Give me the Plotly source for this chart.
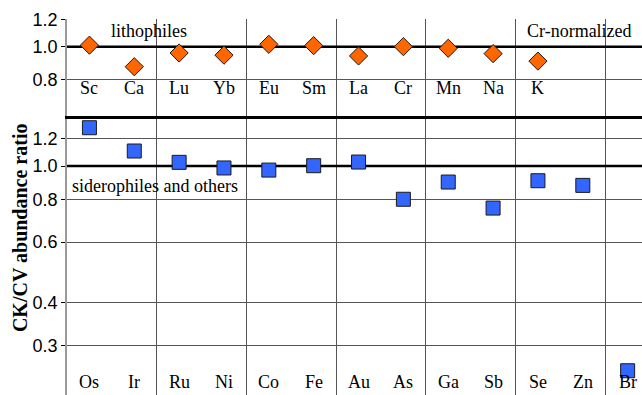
import plotly.graph_objects as go
import math

# ---- data ----
LITHO_ELEMENTS = ["Sc", "Ca", "Lu", "Yb", "Eu", "Sm", "La", "Cr", "Mn", "Na", "K"]
LITHO_VALUES = [1.01, 0.873, 0.958, 0.944, 1.016, 1.007, 0.939, 1.0, 0.989, 0.954, 0.907]

SIDERO_ELEMENTS = ["Os", "Ir", "Ru", "Ni", "Co", "Fe", "Au", "As", "Ga", "Sb", "Se", "Zn", "Br"]
SIDERO_VALUES = [1.293, 1.106, 1.025, 0.987, 0.973, 1.002, 1.027, 0.80, 0.898, 0.754, 0.906, 0.878, 0.253]

TOP_TICKS = [0.8, 1.0, 1.2]
TOP_TICK_LABELS = ["0.8", "1.0", "1.2"]
BOTTOM_TICKS = [0.3, 0.4, 0.6, 0.8, 1.0, 1.2]
BOTTOM_TICK_LABELS = ["0.3", "0.4", "0.6", "0.8", "1.0", "1.2"]
GROUP_BOUNDARIES = [1.5, 3.5, 5.5, 7.5, 9.5, 11.5]
REFERENCE_RATIO = 1.0

Y_TITLE = "CK/CV abundance ratio"

# ---- styling ----
SERIF = "Liberation Serif, Times New Roman, serif"
SANS = "Liberation Sans, Arial, sans-serif"
ORANGE = "#FF6600"
BLUE = "#3366FF"
GRID = "#555555"

X_RANGE = [-0.5, 12.32]
TOP_RANGE = [-0.2036, math.log10(1.2) + 0.002]
BOTTOM_RANGE = [-0.6676, 0.1458]
SPLIT = 279 / 376

fig = go.Figure()

# reference lines at ratio 1.0
fig.add_trace(go.Scatter(x=[-1, 14], y=[REFERENCE_RATIO] * 2, mode="lines",
                         line=dict(color="black", width=2.5), xaxis="x", yaxis="y",
                         hoverinfo="skip", showlegend=False))
fig.add_trace(go.Scatter(x=[-1, 14], y=[REFERENCE_RATIO] * 2, mode="lines",
                         line=dict(color="black", width=2.5), xaxis="x2", yaxis="y2",
                         hoverinfo="skip", showlegend=False))

fig.add_trace(go.Scatter(
    x=list(range(len(SIDERO_ELEMENTS))), y=SIDERO_VALUES, mode="markers",
    marker=dict(symbol="square", size=14, color=BLUE, line=dict(color="#1a1a1a", width=1)),
    xaxis="x", yaxis="y", showlegend=False, text=SIDERO_ELEMENTS))

fig.add_trace(go.Scatter(
    x=list(range(len(LITHO_ELEMENTS))), y=LITHO_VALUES, mode="markers",
    marker=dict(symbol="diamond", size=14, color=ORANGE, line=dict(color="#1a1a1a", width=1)),
    xaxis="x2", yaxis="y2", showlegend=False, text=LITHO_ELEMENTS))

annotations = []
for i, el in enumerate(LITHO_ELEMENTS):
    annotations.append(dict(x=i, y=math.log10(0.755), xref="x2", yref="y2", text=el,
                            showarrow=False, font=dict(family=SERIF, size=18, color="black"),
                            xanchor="center", yanchor="middle"))
for i, el in enumerate(SIDERO_ELEMENTS):
    annotations.append(dict(x=i, y=math.log10(0.2345), xref="x", yref="y", text=el,
                            showarrow=False, font=dict(family=SERIF, size=18, color="black"),
                            xanchor="center", yanchor="middle"))

annotations += [
    dict(x=0.43, y=math.log10(1.115), xref="x2", yref="y2", text="lithophiles", showarrow=False,
         font=dict(family=SERIF, size=18, color="black"), xanchor="left", yanchor="middle"),
    dict(x=9.71, y=math.log10(1.115), xref="x2", yref="y2", text="Cr-normalized", showarrow=False,
         font=dict(family=SERIF, size=18, color="black"), xanchor="left", yanchor="middle"),
    dict(x=-0.44, y=math.log10(0.874), xref="x", yref="y", text="siderophiles and others",
         showarrow=False, font=dict(family=SERIF, size=18, color="black"),
         xanchor="left", yanchor="middle"),
    dict(x=-0.0817, y=0.444, xref="paper", yref="paper", text="<b>" + Y_TITLE + "</b>",
         showarrow=False, textangle=-90, font=dict(family=SERIF, size=20, color="black"),
         xanchor="center", yanchor="middle"),
]

xaxis_common = dict(range=X_RANGE, tickvals=GROUP_BOUNDARIES, showticklabels=False,
                    showgrid=True, gridcolor=GRID, gridwidth=1, zeroline=False, ticks="")

fig.update_layout(
    width=642, height=395,
    margin=dict(l=67, r=0, t=19, b=0),
    paper_bgcolor="white", plot_bgcolor="white",
    showlegend=False,
    xaxis=dict(**xaxis_common, domain=[0, 1], anchor="y", showline=False),
    xaxis2=dict(**xaxis_common, domain=[0, 1], anchor="y2", showline=True,
                linecolor="black", linewidth=2.5),
    yaxis=dict(type="log", range=BOTTOM_RANGE, domain=[0, SPLIT], anchor="x",
               tickvals=BOTTOM_TICKS, ticktext=BOTTOM_TICK_LABELS,
               showgrid=True, gridcolor=GRID, gridwidth=1, zeroline=False,
               showline=True, linecolor="#999999", linewidth=1.5,
               ticks="outside", ticklen=4, tickcolor="black",
               tickfont=dict(family=SANS, size=18, color="black")),
    yaxis2=dict(type="log", range=TOP_RANGE, domain=[SPLIT, 1], anchor="x2",
                tickvals=TOP_TICKS, ticktext=TOP_TICK_LABELS,
                showgrid=True, gridcolor=GRID, gridwidth=1, zeroline=False,
                showline=True, linecolor="#999999", linewidth=1.5,
                ticks="outside", ticklen=4, tickcolor="black",
                tickfont=dict(family=SANS, size=18, color="black")),
    annotations=annotations,
)

fig.write_html("out.html", config={"displayModeBar": False},
               post_script="document.body.style.margin='0';document.body.style.overflow='hidden';")
